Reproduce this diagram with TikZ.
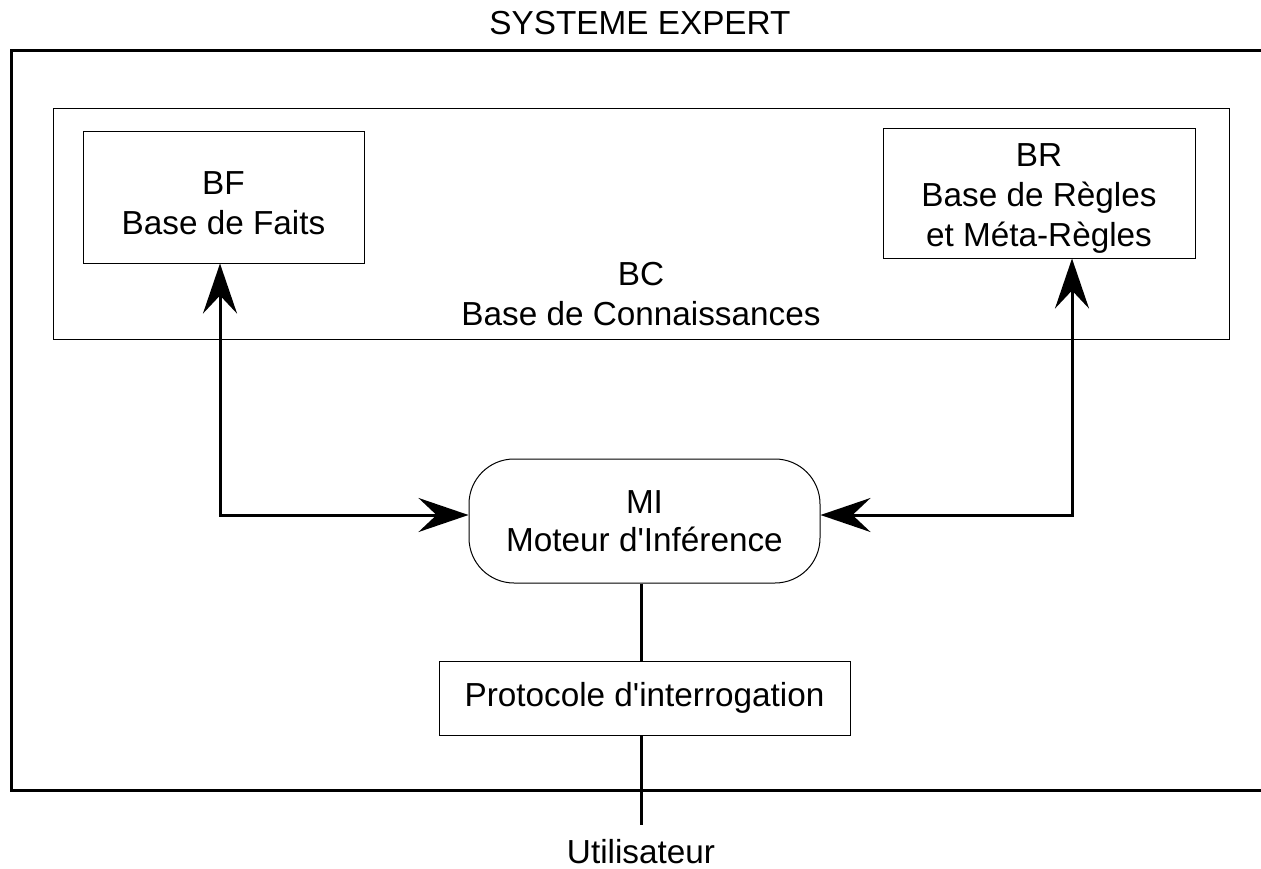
\documentclass[tikz,border=0pt]{standalone}
\usepackage{fontspec}
\setmainfont{Liberation Sans}
\usetikzlibrary{arrows.meta,calc}
\begin{document}
\begin{tikzpicture}[x=1pt,y=-1pt,
  font=\fontsize{33.3}{40}\selectfont,
  box/.style={draw, line width=1pt, inner sep=0pt, align=center},
  txt/.style={inner sep=0pt, align=center},
  frame/.style={line width=3pt},
  conn/.style={line width=3pt},
  arr/.style={line width=3pt,
    {Stealth[length=50pt,width=34pt,inset=18pt]}-{Stealth[length=50pt,width=34pt,inset=18pt]}}]
\useasboundingbox (0,0) rectangle (1261,869);
% outer frame (open on the right)
\draw[frame] (1270,51) -- (11,51) -- (11,790) -- (1270,790);
% boxes
\node[box, minimum width=1176pt, minimum height=230pt] (BC) at (641,224) {};
\node[box, minimum width=281pt, minimum height=131pt] (BF) at (223.5,197.5) {};
\node[box, minimum width=312pt, minimum height=129pt] (BR) at (1039,193.5) {};
\node[box, rounded corners=45pt, minimum width=351pt, minimum height=124pt,
      font=\fontsize{33.3}{38}\selectfont] (MI) at (644.5,521) {MI\\Moteur d\textquotesingle Inférence};
\node[box, minimum width=411pt, minimum height=74pt] (PI) at (644.5,698) {Protocole d\textquotesingle interrogation};
% texts
\node[txt] (BCtext) at (641,294) {BC\\Base de Connaissances};
\node[txt] (BFtext) at (223.5,203) {BF\\Base de Faits};
\node[txt] (BRtext) at (1039,199) {BR\\Base de Règles\\et Méta-Règles};
\node[txt] (title) at (640,23) {SYSTEME EXPERT};
\node[txt] (user) at (641,852) {Utilisateur};
% connectors
\coordinate (lk) at (220,515);
\coordinate (rk) at (1072,515);
\coordinate (vx) at (641,0);
\coordinate (uend) at (641,825);
\draw[arr] (lk |- BF.south) -- (lk) -- (lk -| MI.west);
\draw[arr] (rk |- BR.south) -- (rk) -- (rk -| MI.east);
\draw[conn] (vx |- MI.south) -- (vx |- PI.north);
\draw[conn] (vx |- PI.south) -- (uend);
\end{tikzpicture}
\end{document}
